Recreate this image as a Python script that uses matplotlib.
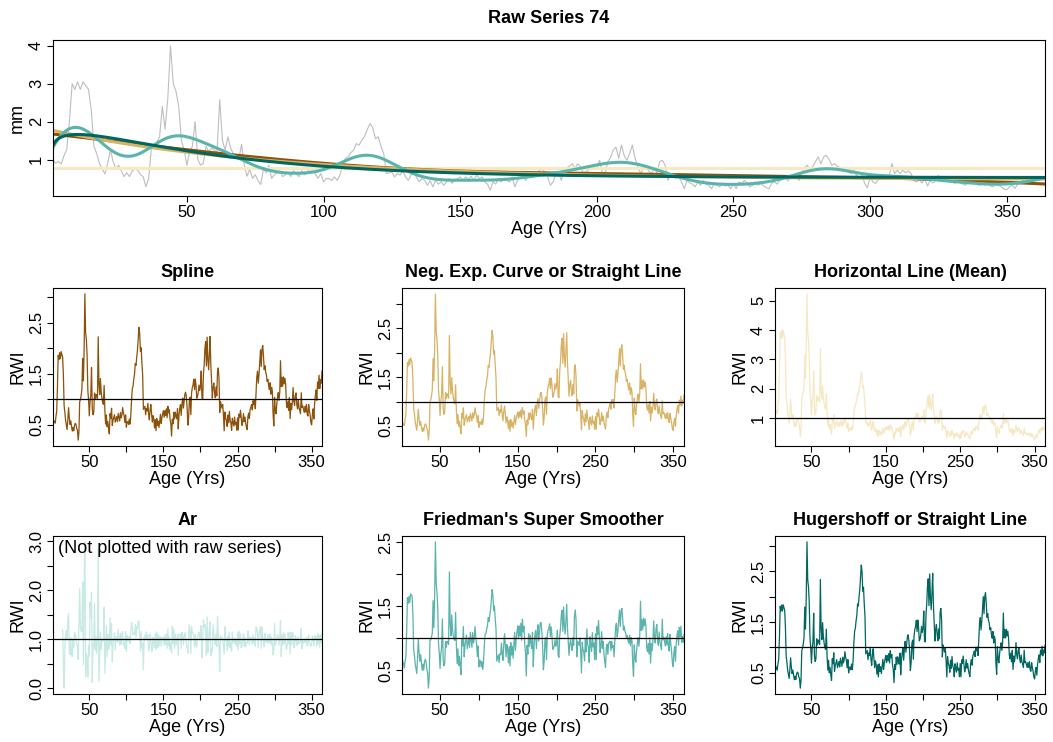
import numpy as np
import matplotlib
matplotlib.use('Agg')
import matplotlib.pyplot as plt

plt.rcParams['font.family'] = ['Liberation Sans', 'DejaVu Sans']

# raw ring widths (mm) of series 74, one value per year of age
raw_mm = [
    1.00, 0.90, 0.95, 0.88, 1.10, 1.25, 2.00, 3.00, 2.85, 3.05,
    2.85, 3.05, 2.95, 2.85, 2.30, 1.35, 1.15, 0.90, 0.75, 0.62,
    0.90, 1.25, 0.95, 0.75, 0.85, 0.70, 0.55, 0.65, 0.55, 0.70,
    0.75, 0.72, 0.60, 0.55, 0.28, 0.50, 1.30, 1.35, 1.45, 1.60,
    2.40, 1.80, 2.60, 4.00, 3.00, 2.80, 2.40, 1.50, 1.25, 0.85,
    1.20, 1.35, 2.00, 1.00, 0.85, 0.90, 1.35, 1.20, 1.30, 1.25,
    1.18, 2.58, 1.50, 1.25, 1.60, 1.30, 1.15, 1.05, 1.00, 1.40,
    0.85, 0.56, 0.75, 0.50, 0.60, 0.45, 0.34, 0.75, 0.65, 0.85,
    0.50, 0.60, 0.65, 0.70, 0.55, 0.60, 0.65, 0.55, 0.70, 0.62,
    0.55, 0.70, 0.60, 0.65, 0.78, 0.68, 0.62, 0.50, 0.63, 0.41,
    0.50, 0.50, 0.45, 0.54, 0.45, 0.59, 0.85, 1.03, 1.07, 1.18,
    1.25, 1.42, 1.38, 1.51, 1.61, 1.79, 1.95, 1.84, 1.55, 1.60,
    1.35, 1.16, 0.63, 0.65, 0.67, 0.54, 0.63, 0.59, 0.70, 0.54,
    0.45, 0.59, 0.67, 0.54, 0.41, 0.50, 0.45, 0.32, 0.44, 0.28,
    0.45, 0.35, 0.41, 0.32, 0.41, 0.50, 0.37, 0.45, 0.50, 0.54,
    0.45, 0.54, 0.47, 0.56, 0.44, 0.59, 0.50, 0.54, 0.41, 0.35,
    0.19, 0.41, 0.35, 0.50, 0.41, 0.50, 0.45, 0.41, 0.54, 0.28,
    0.45, 0.54, 0.59, 0.45, 0.59, 0.67, 0.54, 0.63, 0.72, 0.74,
    0.67, 0.54, 0.32, 0.41, 0.63, 0.67, 0.45, 0.72, 0.79, 0.82,
    0.89, 0.76, 0.89, 0.81, 0.65, 0.67, 0.72, 0.81, 0.74, 0.79,
    0.98, 0.65, 0.63, 0.94, 1.05, 1.25, 1.33, 1.03, 1.38, 1.11,
    0.98, 1.16, 1.38, 1.03, 0.82, 0.63, 0.76, 0.81, 0.70, 0.63,
    0.76, 0.65, 0.94, 0.98, 0.85, 0.45, 0.58, 0.54, 0.50, 0.54,
    0.41, 0.23, 0.45, 0.38, 0.35, 0.28, 0.41, 0.32, 0.45, 0.35,
    0.32, 0.23, 0.37, 0.32, 0.28, 0.38, 0.30, 0.32, 0.23, 0.37,
    0.23, 0.41, 0.37, 0.45, 0.37, 0.28, 0.32, 0.41, 0.32, 0.37,
    0.30, 0.26, 0.23, 0.37, 0.41, 0.35, 0.45, 0.47, 0.50, 0.44,
    0.54, 0.50, 0.54, 0.45, 0.63, 0.79, 0.85, 0.72, 0.81, 0.94,
    1.07, 0.89, 1.07, 1.11, 1.00, 0.85, 0.89, 0.82, 0.79, 0.72,
    0.74, 0.67, 0.63, 0.70, 0.58, 0.65, 0.61, 0.37, 0.25, 0.54,
    0.41, 0.37, 0.47, 0.54, 0.58, 0.50, 0.58, 0.89, 0.63, 0.72,
    0.63, 0.72, 0.65, 0.70, 0.63, 0.45, 0.41, 0.47, 0.38, 0.50,
    0.30, 0.44, 0.38, 0.45, 0.58, 0.45, 0.41, 0.50, 0.52, 0.41,
    0.37, 0.45, 0.38, 0.35, 0.32, 0.50, 0.37, 0.38, 0.35, 0.32,
    0.37, 0.32, 0.38, 0.30, 0.28, 0.37, 0.32, 0.28, 0.22, 0.20,
    0.28, 0.32, 0.24, 0.35, 0.41, 0.45, 0.37, 0.50, 0.45, 0.54,
    0.44, 0.50, 0.47, 0.55,
]

method_titles = ['Spline', 'Neg. Exp. Curve or Straight Line', 'Horizontal Line (Mean)',
                 'Ar', "Friedman's Super Smoother", 'Hugershoff or Straight Line']
method_colors = ['#8C510A', '#D8B365', '#F6E8C3', '#C7EAE5', '#5AB4AC', '#01665E']
raw_color = '#BEBEBE'

x_ticks = [50, 100, 150, 200, 250, 300, 350]
x_labels_small = ['50', '', '150', '', '250', '', '350']
top_yticks = [1, 2, 3, 4]
panel_yticks = [
    ([0.5, 1.0, 1.5, 2.0, 2.5, 3.0], ['0.5', '', '1.5', '', '2.5', '']),
    ([0.5, 1.0, 1.5, 2.0, 2.5, 3.0], ['0.5', '', '1.5', '', '2.5', '']),
    ([1, 2, 3, 4, 5], ['1', '2', '3', '4', '5']),
    ([0.0, 0.5, 1.0, 1.5, 2.0, 2.5, 3.0], ['0.0', '', '1.0', '', '2.0', '', '3.0']),
    ([0.5, 1.0, 1.5, 2.0, 2.5], ['0.5', '', '1.5', '', '2.5']),
    ([0.5, 1.0, 1.5, 2.0, 2.5, 3.0], ['0.5', '', '1.5', '', '2.5', '']),
]

raw = np.array(raw_mm)
age = np.arange(1, len(raw) + 1).astype(float)


# gaussian weighted local linear smoother
def loclin(y, t, sigma):
    fit = np.empty(len(y))
    for i, t0 in enumerate(t):
        d = t - t0
        w = np.exp(-0.5 * (d / sigma) ** 2)
        s0, s1, s2 = w.sum(), (w * d).sum(), (w * d * d).sum()
        r0, r1 = (w * y).sum(), (w * d * y).sum()
        fit[i] = (s2 * r0 - s1 * r1) / (s0 * s2 - s1 * s1)
    return fit


# a*exp(-b*t) + k, grid over b
def negexp(y, t):
    best = None
    for b in np.linspace(0.002, 0.2, 300):
        X = np.column_stack([np.exp(-b * t), np.ones_like(t)])
        coef = np.linalg.lstsq(X, y, rcond=None)[0]
        sse = ((X @ coef - y) ** 2).sum()
        if coef[1] >= 0 and (best is None or sse < best[0]):
            best = (sse, X @ coef)
    return best[1]


# a*t^b*exp(-c*t) + d, grid over b and c
def hugershoff(y, t):
    best = None
    for b in np.linspace(0.05, 1.5, 59):
        for c in np.linspace(0.002, 0.15, 75):
            X = np.column_stack([t ** b * np.exp(-c * t), np.ones_like(t)])
            coef = np.linalg.lstsq(X, y, rcond=None)[0]
            sse = ((X @ coef - y) ** 2).sum()
            if coef[1] >= 0 and (best is None or sse < best[0]):
                best = (sse, X @ coef)
    return best[1]


# yule-walker ar residuals, rescaled to mean 1
def ar_index(y, p):
    m = y.mean()
    x = y - m
    n = len(x)
    acov = np.array([np.dot(x[:n - k], x[k:]) / n for k in range(p + 1)])
    R = np.array([[acov[abs(i - j)] for j in range(p)] for i in range(p)])
    phi = np.linalg.solve(R, acov[1:])
    res = np.full(n, np.nan)
    for i in range(p, n):
        res[i] = x[i] - np.dot(phi, x[i - p:i][::-1])
    out = res + m
    out[out < 0] = 0
    return out / np.nanmean(out)


curve_spline = loclin(raw, age, 46)
curve_negexp = negexp(raw, age)
curve_mean = np.full(len(raw), raw.mean())
curve_friedman = loclin(raw, age, 9)
curve_hug = hugershoff(raw, age)

rwi = [raw / curve_spline, raw / curve_negexp, raw / curve_mean,
       ar_index(raw, 13), raw / curve_friedman, raw / curve_hug]

W, H = 1053, 742
fig = plt.figure(figsize=(W / 100, H / 100), dpi=100)


def px_axes(left, top, right, bottom):
    return fig.add_axes([left / W, 1 - bottom / H, (right - left) / W, (bottom - top) / H])


def style(ax, title, ylabel, yticks, ylabels, xlabels, tpad=8):
    ax.set_title(title, fontsize=13, fontweight='bold', pad=tpad)
    ax.set_xlabel('Age (Yrs)', fontsize=13, labelpad=1)
    ax.set_ylabel(ylabel, fontsize=13, labelpad=2)
    ax.set_xticks(x_ticks)
    ax.set_xticklabels(xlabels)
    ax.set_yticks(yticks)
    ax.set_yticklabels(ylabels)
    ax.tick_params(direction='out', length=4.5, width=0.8, labelsize=12, pad=2)
    plt.setp(ax.get_yticklabels(), rotation=90, va='center')
    for s in ax.spines.values():
        s.set_linewidth(0.8)
    ax.set_xlim(1, len(raw))


# top panel: raw series with the fitted curves
ax = px_axes(53, 40, 1045, 196)
ax.plot(age, raw, color=raw_color, lw=0.8)
ax.plot(age, curve_mean, color=method_colors[2], lw=2.2)
ax.plot(age, curve_spline, color=method_colors[0], lw=2.2)
ax.plot(age, curve_negexp, color=method_colors[1], lw=2.2)
ax.plot(age, curve_friedman, color=method_colors[4], lw=2.2)
ax.plot(age, curve_hug, color=method_colors[5], lw=2.2)
ax.margins(y=0.04)
style(ax, 'Raw Series 74', 'mm', top_yticks, [str(v) for v in top_yticks],
      [str(v) for v in x_ticks], tpad=12)

# six index panels
cols = [(53, 322), (402, 684), (775, 1045)]
rows = [(288, 446), (536, 694)]
for k in range(6):
    r, c = divmod(k, 3)
    ax = px_axes(cols[c][0], rows[r][0], cols[c][1], rows[r][1])
    ax.plot(age, rwi[k], color=method_colors[k], lw=0.9)
    ax.axhline(1, color='black', lw=0.9)
    ax.margins(y=0.04)
    style(ax, method_titles[k], 'RWI', panel_yticks[k][0], panel_yticks[k][1], x_labels_small)
    if k == 3:
        ax.text(0.02, 0.975, '(Not plotted with raw series)', transform=ax.transAxes,
                ha='left', va='top', fontsize=13)

fig.savefig('out.png', dpi=100)
